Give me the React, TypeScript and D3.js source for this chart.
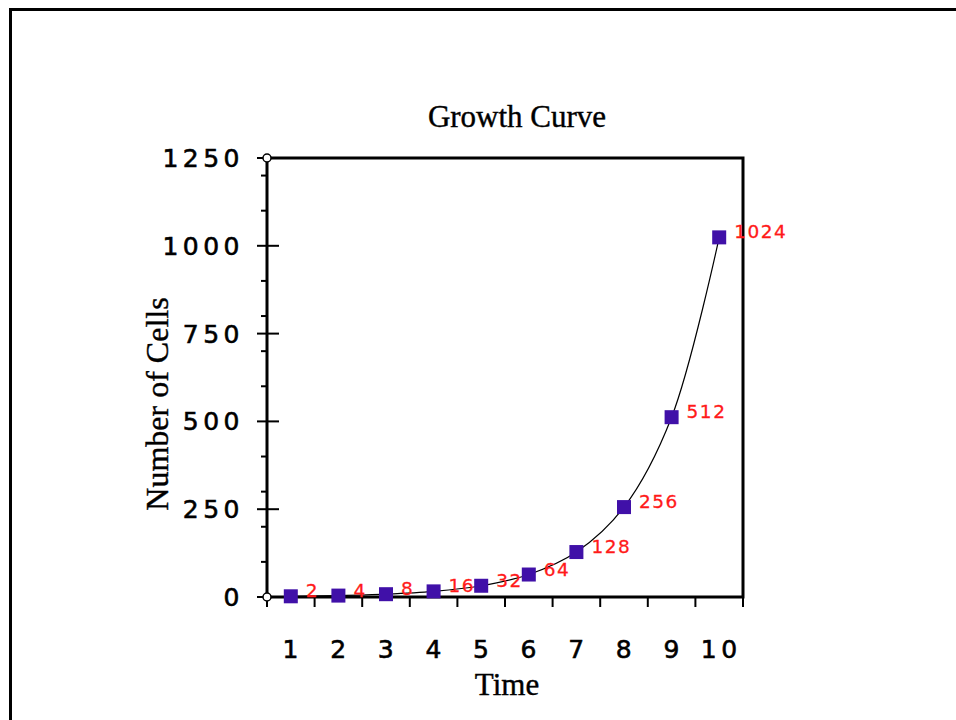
import React from "react";
import * as d3 from "d3";

const times = [1, 2, 3, 4, 5, 6, 7, 8, 9, 10];
const cells = [2, 4, 8, 16, 32, 64, 128, 256, 512, 1024];
const yMajorTicks = [0, 250, 500, 750, 1000, 1250];
const yMinorTicks = [100, 200, 300, 400, 600, 700, 800, 900, 1100, 1200];
const xBoundaryTicks = [0.5, 1.5, 2.5, 3.5, 4.5, 5.5, 6.5, 7.5, 8.5, 9.5, 10.5];
const title = "Growth Curve";
const xTitle = "Time";
const yTitle = "Number of Cells";

const W = 956;
const H = 720;
const L = 267, R = 743, T = 158, B = 597;

export default function App() {
  const x = d3.scaleLinear().domain([0.5, 10.5]).range([L, R]);
  const y = d3.scaleLinear().domain([0, 1250]).range([B, T]);
  const line = d3
    .line<number>()
    .x((_, i) => x(times[i]))
    .y((d) => y(d))
    .curve(d3.curveCatmullRom.alpha(0.5));
  const sans = "'DejaVu Sans', Verdana, sans-serif";
  const serif = "'Liberation Serif', 'Times New Roman', serif";
  const sq = 14;
  return (
    <svg
      width={W}
      height={H}
      style={{ position: "absolute", left: 0, top: 0, background: "#fff" }}
    >
      <rect x={0} y={0} width={W} height={H} fill="#fff" />
      <rect x={10.5} y={9.5} width={1200} height={1200} fill="none" stroke="#000" strokeWidth={3} />
      <text x={517} y={127} textAnchor="middle" fontFamily={serif} fontSize={31} fill="#000" stroke="#000" strokeWidth={0.4}>
        {title}
      </text>
      {/* minor y ticks */}
      {yMinorTicks.map((v) => (
        <line key={"mn" + v} x1={L - 6} x2={L} y1={y(v)} y2={y(v)} stroke="#000" strokeWidth={2} />
      ))}
      {yMajorTicks.map((v) => (
        <g key={"mj" + v}>
          <line x1={L - 10} x2={L + 12} y1={y(v)} y2={y(v)} stroke="#000" strokeWidth={2} />
          <text
            x={244}
            y={y(v) + 9}
            textAnchor="end"
            fontFamily={sans}
            fontSize={25}
            letterSpacing={4.5}
            fill="#000"
            stroke="#000"
            strokeWidth={0.6}
          >
            {v}
          </text>
        </g>
      ))}
      {xBoundaryTicks.map((v) => (
        <line key={"xt" + v} x1={x(v)} x2={x(v)} y1={B} y2={B + 10} stroke="#000" strokeWidth={2} />
      ))}
      {times.map((t) => (
        <text
          key={"xl" + t}
          x={x(t) + 2}
          y={658}
          textAnchor="middle"
          fontFamily={sans}
          fontSize={25}
          letterSpacing={4.5}
          fill="#000"
          stroke="#000"
          strokeWidth={0.6}
        >
          {t}
        </text>
      ))}
      {/* frame */}
      <path d={`M${L},${B}V${T}H${R}V${B}Z`} fill="none" stroke="#000" strokeWidth={3} />
      <circle cx={L} cy={B} r={4} fill="#fff" stroke="#000" strokeWidth={1.5} />
      <circle cx={L} cy={T} r={4} fill="#fff" stroke="#000" strokeWidth={1.5} />
      <path d={line(cells) || ""} fill="none" stroke="#000" strokeWidth={1.2} />
      {cells.map((v, i) => (
        <g key={"pt" + i}>
          <rect
            x={x(times[i]) - sq / 2}
            y={y(v) - sq / 2}
            width={sq}
            height={sq}
            fill="#4010a8"
          />
          <text
            x={x(times[i]) + 15}
            y={y(v) + 1}
            fontFamily={sans}
            fontSize={18.5}
            letterSpacing={1.5}
            fill="#ff1a1a"
            stroke="#ff1a1a"
            strokeWidth={0.3}
          >
            {v}
          </text>
        </g>
      ))}
      <text x={507} y={695} textAnchor="middle" fontFamily={serif} fontSize={31} fill="#000" stroke="#000" strokeWidth={0.4}>
        {xTitle}
      </text>
      <text
        transform={`translate(168,404) rotate(-90)`}
        textAnchor="middle"
        fontFamily={serif}
        fontSize={32}
        fill="#000"
        stroke="#000"
        strokeWidth={0.4}
      >
        {yTitle}
      </text>
    </svg>
  );
}
